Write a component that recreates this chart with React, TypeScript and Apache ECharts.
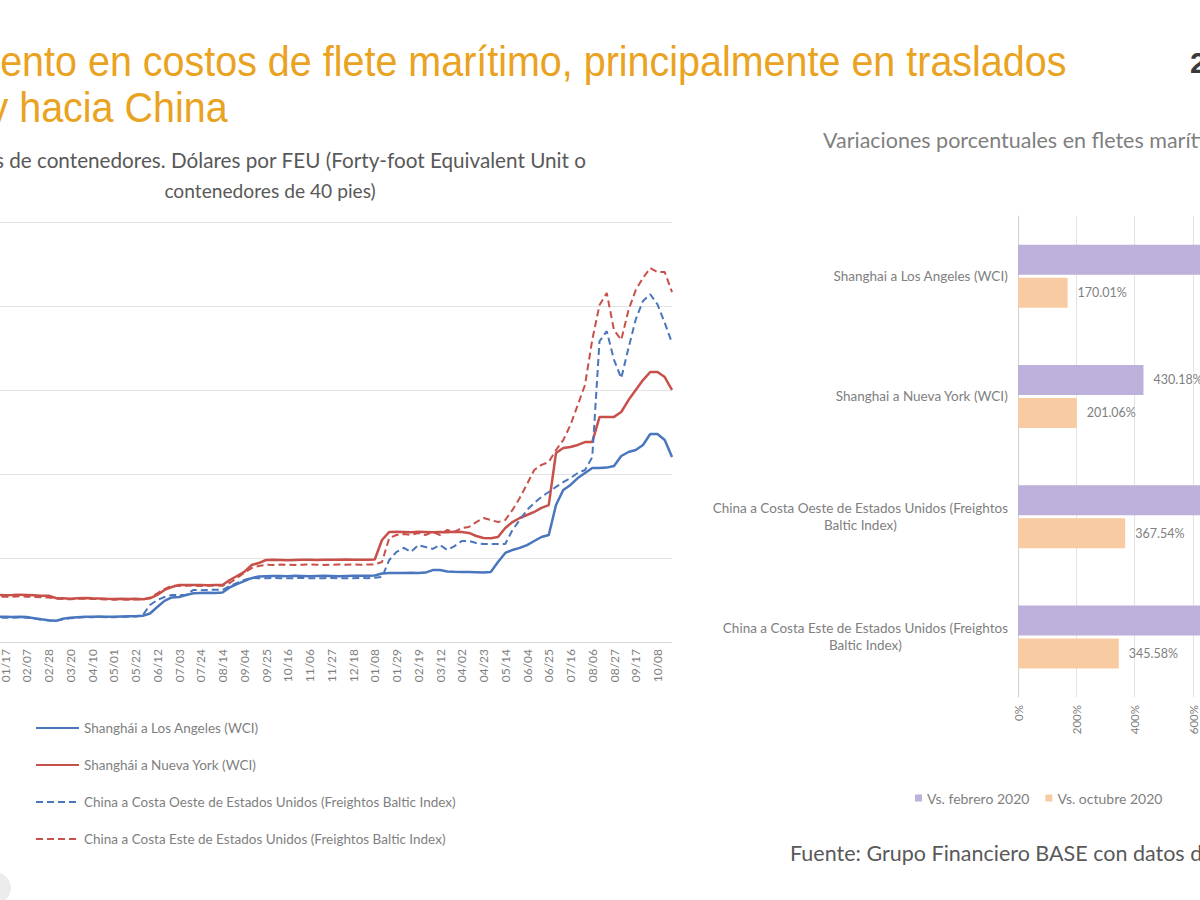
import React, { useEffect, useRef } from "react";
import * as echarts from "echarts";

// Weekly observations (Fridays), Jan 2020 – Oct 2021
const weeks = [
  "01/03", "01/10", "01/17", "01/24", "01/31", "02/07", "02/14", "02/21", "02/28", "03/06",
  "03/13", "03/20", "03/27", "04/03", "04/10", "04/17", "04/24", "05/01", "05/08", "05/15",
  "05/22", "05/29", "06/05", "06/12", "06/19", "06/26", "07/03", "07/10", "07/17", "07/24",
  "07/31", "08/07", "08/14", "08/21", "08/28", "09/04", "09/11", "09/18", "09/25", "10/02",
  "10/09", "10/16", "10/23", "10/30", "11/06", "11/13", "11/20", "11/27", "12/04", "12/11",
  "12/18", "12/25", "01/01", "01/08", "01/15", "01/22", "01/29", "02/05", "02/12", "02/19",
  "02/26", "03/05", "03/12", "03/19", "03/26", "04/02", "04/09", "04/16", "04/23", "04/30",
  "05/07", "05/14", "05/21", "05/28", "06/04", "06/11", "06/18", "06/25", "07/02", "07/09",
  "07/16", "07/23", "07/30", "08/06", "08/13", "08/20", "08/27", "09/03", "09/10", "09/17",
  "09/24", "10/01", "10/08", "10/15", "10/22",
];

const shanghaiLosAngeles = [
  1500, 1510, 1500, 1490, 1500, 1490, 1420, 1350, 1300, 1260,
  1380, 1450, 1480, 1500, 1500, 1520, 1510, 1500, 1520, 1540,
  1530, 1560, 1700, 2080, 2450, 2650, 2680, 2800, 2900, 2920,
  2930, 2920, 2950, 3250, 3450, 3620, 3800, 3900, 3920, 3930,
  3930, 3920, 3940, 3930, 3920, 3930, 3940, 3930, 3920, 3930,
  3940, 3950, 3940, 3960, 4080, 4100, 4110, 4100, 4120, 4110,
  4130, 4280, 4290, 4200, 4180, 4170, 4160, 4150, 4140, 4170,
  4760, 5300, 5480, 5600, 5770, 6010, 6250, 6370, 8150, 9050,
  9350, 9760, 10060, 10360, 10360, 10380, 10480, 11070, 11310, 11430,
  11730, 12380, 12380, 12020, 11010,
];

const shanghaiNuevaYork = [
  2800, 2810, 2790, 2800, 2820, 2800, 2780, 2760, 2750, 2620,
  2600, 2580, 2610, 2620, 2600, 2590, 2570, 2560, 2580, 2560,
  2570, 2550, 2600, 2800, 3100, 3270, 3390, 3390, 3400, 3390,
  3380, 3400, 3390, 3690, 3930, 4170, 4580, 4700, 4880, 4890,
  4880, 4870, 4880, 4890, 4900, 4880, 4890, 4900, 4900, 4910,
  4900, 4890, 4900, 4910, 6070, 6550, 6560, 6550, 6540, 6560,
  6550, 6530, 6550, 6540, 6560, 6550, 6490, 6310, 6190, 6180,
  6250, 6790, 7140, 7380, 7560, 7740, 7980, 8150, 11250, 11550,
  11610, 11730, 11900, 11900, 13390, 13390, 13400, 13690, 14400, 15000,
  15590, 16070, 16070, 15770, 15000,
];

const chinaCostaOeste = [
  1450, 1460, 1440, 1450, 1470, 1450, 1400, 1330, 1280, 1250,
  1350, 1420, 1450, 1470, 1480, 1490, 1480, 1470, 1490, 1500,
  1520, 1600, 2200, 2500, 2680, 2800, 2800, 2820, 3100, 3080,
  3100, 3110, 3100, 3330, 3510, 3690, 3810, 3800, 3790, 3810,
  3800, 3790, 3800, 3810, 3800, 3790, 3800, 3810, 3800, 3790,
  3800, 3810, 3800, 3820, 3870, 4880, 5360, 5600, 5360, 5770,
  5650, 5540, 5770, 5480, 5710, 6010, 6010, 5890, 5830, 5830,
  5840, 5830, 6670, 7260, 7860, 8270, 8630, 8930, 9230, 9520,
  9760, 10060, 10240, 11000, 17900, 18500, 16800, 15700, 17500, 19200,
  20300, 20700, 20100, 19000, 17800,
];

const chinaCostaEste = [
  2700, 2710, 2690, 2700, 2720, 2700, 2680, 2660, 2650, 2580,
  2560, 2540, 2570, 2580, 2560, 2550, 2530, 2520, 2540, 2520,
  2530, 2520, 2650, 2900, 3150, 3350, 3340, 3350, 3360, 3340,
  3350, 3360, 3350, 3510, 3810, 4110, 4400, 4520, 4600, 4590,
  4610, 4600, 4590, 4600, 4610, 4600, 4590, 4600, 4610, 4600,
  4620, 4600, 4610, 4620, 4760, 6190, 6370, 6430, 6370, 6490,
  6370, 6550, 6370, 6670, 6550, 6790, 6850, 7140, 7380, 7260,
  7140, 7260, 7860, 8570, 9400, 10240, 10540, 10710, 11430, 12020,
  12920, 14110, 15300, 17980, 20060, 20770, 18570, 17980, 19760, 20950,
  21670, 22260, 22020, 22020, 20830,
];

const lineSeriesNames = [
  "Shanghái a Los Angeles (WCI)",
  "Shanghái a Nueva York (WCI)",
  "China a Costa Oeste de Estados Unidos (Freightos Baltic Index)",
  "China a Costa Este de Estados Unidos (Freightos Baltic Index)",
];

const routes = [
  "Shanghai a Los Angeles (WCI)",
  "Shanghai a Nueva York (WCI)",
  "China a Costa Oeste de Estados Unidos (Freightos\nBaltic Index)",
  "China a Costa Este de Estados Unidos (Freightos\nBaltic Index)",
];
const barSeriesNames = ["Vs. febrero 2020", "Vs. octubre 2020"];
const vsFebrero2020 = [640, 430.18, 1130, 670];
const vsOctubre2020 = [170.01, 201.06, 367.54, 345.58];

const OFFSET = 200; // chart canvas starts 200px left of the page
const FONT = 'Lato, "Open Sans", sans-serif';
const BLUE = "#4A76BE";
const RED = "#C8504A";

function txt(
  x: number,
  y: number,
  text: string,
  font: string,
  fill: string,
  align = "left",
  scaleX = 1
) {
  return {
    type: "text",
    x: x + OFFSET,
    y,
    scaleX,
    silent: true,
    style: {
      text,
      font,
      fill,
      textAlign: align,
      align,
      textVerticalAlign: "middle",
      verticalAlign: "middle",
    },
  };
}

export default function App() {
  const ref = useRef<HTMLDivElement>(null);

  useEffect(() => {
    if (!ref.current) return;
    const chart = echarts.init(ref.current, undefined, { renderer: "svg" });

    const lineColors = [BLUE, RED, BLUE, RED];
    const lineData = [shanghaiLosAngeles, shanghaiNuevaYork, chinaCostaOeste, chinaCostaEste];
    const valueLabel = {
      show: true,
      position: "right",
      distance: 10,
      formatter: (p: any) => `${Number(p.value).toFixed(2)}%`,
      fontSize: 12.5,
      color: "#7f7f7f",
      fontFamily: FONT,
    };

    const option: any = {
      animation: false,
      backgroundColor: "#ffffff",
      textStyle: { fontFamily: FONT },
      graphic: [
        txt(-81, 62, "Aumento en costos de flete marítimo, principalmente en traslados", '42px "Liberation Sans"', "#EAA221", "left", 0.94),
        txt(-130, 108, "desde y hacia China", '42px "Liberation Sans"', "#EAA221", "left", 0.94),
        txt(1190, 62, "2", 'bold 30px "Liberation Sans"', "#3a3a3a"),
        txt(586, 160, "Fletes de contenedores. Dólares por FEU (Forty-foot Equivalent Unit o", "20.7px Lato", "#595959", "right"),
        txt(270, 190, "contenedores de 40 pies)", "19.2px Lato", "#595959", "center"),
        txt(823, 140, "Variaciones porcentuales en fletes marítimos", "21.5px Lato", "#7f7f7f"),
        txt(790, 853, "Fuente: Grupo Financiero BASE con datos de Drewry y Freightos", "21.5px Lato", "#595959"),
        {
          type: "circle",
          silent: true,
          shape: { cx: OFFSET - 5, cy: 888, r: 16 },
          style: { fill: "#ECECEC" },
        },
      ],
      legend: [
        {
          data: lineSeriesNames,
          orient: "vertical",
          left: OFFSET + 35,
          top: 721,
          padding: 0,
          itemWidth: 43,
          itemHeight: 14,
          itemGap: 23,
          itemStyle: { opacity: 0 },
          textStyle: { fontSize: 13.5, color: "#7f7f7f", fontFamily: FONT },
        },
        {
          data: barSeriesNames,
          orient: "horizontal",
          left: OFFSET + 915,
          top: 791,
          padding: 0,
          itemWidth: 7,
          itemHeight: 7,
          itemGap: 16,
          icon: "rect",
          textStyle: { fontSize: 14, color: "#7f7f7f", fontFamily: FONT },
        },
      ],
      grid: [
        { left: OFFSET - 9.5, top: 222, width: 681.5, height: 420 },
        { left: OFFSET + 1018, top: 216, width: 350, height: 481 },
      ],
      xAxis: [
        {
          gridIndex: 0,
          type: "category",
          data: weeks,
          boundaryGap: false,
          axisLine: { lineStyle: { color: "#D9D9D9" } },
          axisTick: { show: false },
          axisLabel: {
            rotate: 90,
            interval: (i: number) => i % 3 === 2,
            fontSize: 12,
            color: "#7f7f7f",
            margin: 7,
          },
        },
        {
          gridIndex: 1,
          type: "value",
          min: 0,
          max: 1200,
          interval: 200,
          axisLine: { show: false },
          axisTick: { show: false },
          splitLine: { lineStyle: { color: "#E3E3E3" } },
          axisLabel: { rotate: 90, formatter: "{value}%", fontSize: 11.5, color: "#808080", margin: 8 },
        },
      ],
      yAxis: [
        {
          gridIndex: 0,
          type: "value",
          min: 0,
          max: 25000,
          interval: 5000,
          axisLine: { show: false },
          axisTick: { show: false },
          splitLine: { lineStyle: { color: "#E3E3E3" } },
          axisLabel: {
            color: "#7f7f7f",
            fontSize: 12,
            formatter: (v: number) => v.toLocaleString("en-US"),
          },
        },
        {
          gridIndex: 1,
          type: "category",
          data: routes,
          inverse: true,
          axisLine: { lineStyle: { color: "#D0D0D0" } },
          axisTick: { show: false },
          axisLabel: {
            margin: 10,
            formatter: (v: string) => v.split("\n").map((l) => `{c|${l}}`).join("\n"),
            rich: {
              c: { align: "center", fontSize: 13.5, color: "#808080", lineHeight: 17, fontFamily: FONT },
            },
          },
        },
      ],
      series: [
        ...lineSeriesNames.map((name, k) => ({
          name,
          type: "line",
          xAxisIndex: 0,
          yAxisIndex: 0,
          data: lineData[k],
          symbol: "none",
          showSymbol: false,
          itemStyle: { color: lineColors[k] },
          lineStyle: {
            color: lineColors[k],
            width: k < 2 ? 2.5 : 2,
            type: k < 2 ? "solid" : [7, 4],
          },
        })),
        {
          name: barSeriesNames[0],
          type: "bar",
          xAxisIndex: 1,
          yAxisIndex: 1,
          data: vsFebrero2020,
          barWidth: 30,
          barGap: "10%",
          itemStyle: { color: "#BDB0DA" },
          label: valueLabel,
        },
        {
          name: barSeriesNames[1],
          type: "bar",
          xAxisIndex: 1,
          yAxisIndex: 1,
          data: vsOctubre2020,
          barWidth: 30,
          barGap: "10%",
          itemStyle: { color: "#F9CBA3" },
          label: valueLabel,
        },
      ],
    };

    chart.setOption(option);
    return () => chart.dispose();
  }, []);

  return (
    <div
      style={{
        position: "fixed",
        left: 0,
        top: 0,
        width: 1200,
        height: 900,
        overflow: "hidden",
        background: "#ffffff",
      }}
    >
      <div
        ref={ref}
        style={{ position: "absolute", left: -OFFSET, top: 0, width: 1200 + 2 * OFFSET, height: 900 }}
      />
    </div>
  );
}
